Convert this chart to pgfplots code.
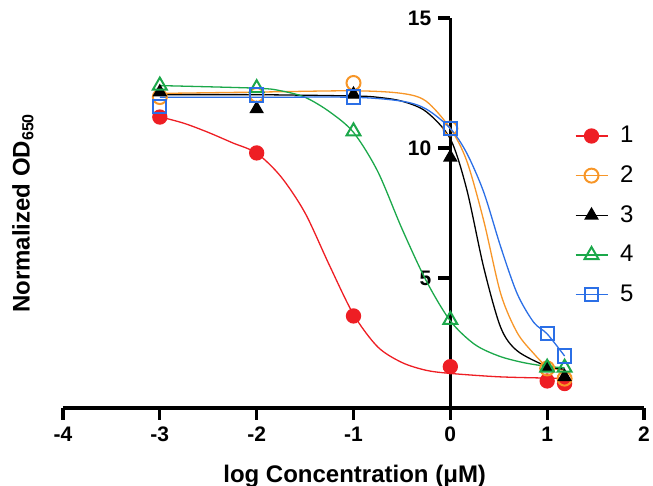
\documentclass[border=0pt]{standalone}
\usepackage{fontspec}
\setmainfont{Liberation Sans}
\usepackage{pgfplots}
\pgfplotsset{compat=1.18}

\definecolor{c1}{RGB}{238,30,36}
\definecolor{c2}{RGB}{247,150,40}
\definecolor{c3}{RGB}{0,0,0}
\definecolor{c4}{RGB}{27,168,74}
\definecolor{c5}{RGB}{43,111,230}

\pgfplotsset{
  legline/.style={legend image code/.code={%
    \draw[##1, sharp plot, mark repeat=2, mark phase=2]
      plot coordinates {(0pt,0pt) (8pt,0pt) (16pt,0pt)};}},
  curve/.style={smooth, tension=0.5, line width=0.65pt, forget plot},
}

\begin{document}
\begin{tikzpicture}
\begin{axis}[
  scale only axis, width=290.5pt, height=195pt,
  xmin=-4, xmax=2, ymin=0, ymax=15,
  clip=false,
  axis lines=middle,
  axis line style={-, line width=1.6pt},
  xtick={-4,-3,-2,-1,0,1,2},
  xticklabels={-4,-3,-2,-1,0,1,2},
  ytick={5,10,15},
  yticklabels={5,10,15},
  hide obscured x ticks=false, hide obscured y ticks=false,
  tick align=outside,
  major tick length=6pt,
  tick style={black, line width=1.6pt},
  ticklabel style={font=\fontsize{10.5}{12}\selectfont\bfseries},
  xlabel={log Concentration (μM)},
  ylabel={Normalized OD\textsubscript{650}},
  xlabel style={at={(rel axis cs:0.502,0)}, anchor=base, yshift=-37.5pt,
    font=\fontsize{12}{14}\selectfont\bfseries},
  ylabel style={at={(rel axis cs:-0.069,0.5)}, anchor=center, rotate=90,
    font=\fontsize{12}{14}\selectfont\bfseries},
  legend style={at={(rel axis cs:0.87,0.744)}, anchor=north west,
    draw=none, fill=none, font=\fontsize{12}{14}\selectfont,
    row sep=6pt,
    /tikz/every odd column/.append style={column sep=4pt}},
  legend cell align=left,
]

% fitted curves
\addplot[c1, curve] coordinates {
  (-3,11.2) (-2.75,10.95) (-2.5,10.6) (-2.25,10.2) (-2,9.8) (-1.75,8.9)
  (-1.5,7.5) (-1.25,5.5) (-1,3.6) (-0.75,2.35) (-0.5,1.75) (-0.25,1.45)
  (0,1.33) (0.5,1.2) (1,1.15) (1.18,1.14)
};
\addplot[c2, curve] coordinates {
  (-3,12.1) (-2,12.15) (-1,12.2) (-0.5,12.1) (-0.25,11.8) (0,10.75)
  (0.17,9.5) (0.345,7.2) (0.52,4.4) (0.69,2.9) (0.86,2.1) (1,1.6) (1.18,1.45)
};
\addplot[c3, curve] coordinates {
  (-3,12.05) (-2,12.05) (-1,12.0) (-0.75,11.95) (-0.5,11.8) (-0.25,11.4)
  (0,10.35) (0.17,8.4) (0.345,5.4) (0.52,3.1) (0.69,2.2) (1,1.6) (1.18,1.5)
};
\addplot[c4, curve] coordinates {
  (-3,12.4) (-2,12.3) (-1.75,12.2) (-1.5,11.95) (-1.25,11.4) (-1,10.6)
  (-0.75,9.1) (-0.5,6.9) (-0.25,4.9) (0,3.35) (0.25,2.45) (0.5,2.0)
  (0.75,1.75) (1,1.6) (1.18,1.55)
};
\addplot[c5, curve] coordinates {
  (-3,11.95) (-2,11.95) (-1,11.95) (-0.5,11.8) (-0.25,11.5) (0,10.75)
  (0.17,9.8) (0.345,8.3) (0.52,6.2) (0.69,4.4) (0.86,3.3) (1,2.85) (1.18,2.0)
};

% measured points
\addplot[c1, only marks, mark=*, mark size=3.5pt, line width=0.65pt, legline] coordinates {
  (-3,11.19) (-2,9.81) (-1,3.54) (0,1.59) (1,1.04) (1.18,0.94)
};
\addplot[c2, only marks, mark=o, mark size=3.5pt, line width=0.65pt,
  mark options={line width=1pt}, legline] coordinates {
  (-3,11.96) (-2,12.04) (-1,12.5) (0,10.75) (1,1.52) (1.18,1.13)
};
\addplot[c3, only marks, mark=triangle*, mark size=3.6pt, line width=0.65pt, legline] coordinates {
  (-3,12.15) (-2,11.5) (-1,12.06) (0,9.64) (1,1.55) (1.18,1.2)
};
\addplot[c4, only marks, mark=triangle, mark size=4pt, line width=0.65pt,
  mark options={line width=1pt}, legline] coordinates {
  (-3,12.4) (-2,12.3) (-1,10.64) (0,3.39) (1,1.55) (1.18,1.55)
};
\addplot[c5, only marks, mark=square, mark size=3.3pt, line width=0.65pt,
  mark options={line width=1pt}, legline] coordinates {
  (-3,11.6) (-2,12.04) (-1,11.96) (0,10.75) (1,2.87) (1.18,2.0)
};
\legend{1,2,3,4,5}
\end{axis}
\pgfresetboundingbox
\path ([shift={(-31.5pt,-39pt)}]current axis.south west)
  rectangle ([shift={(4.5pt,9pt)}]current axis.north east);
\end{tikzpicture}
\end{document}
